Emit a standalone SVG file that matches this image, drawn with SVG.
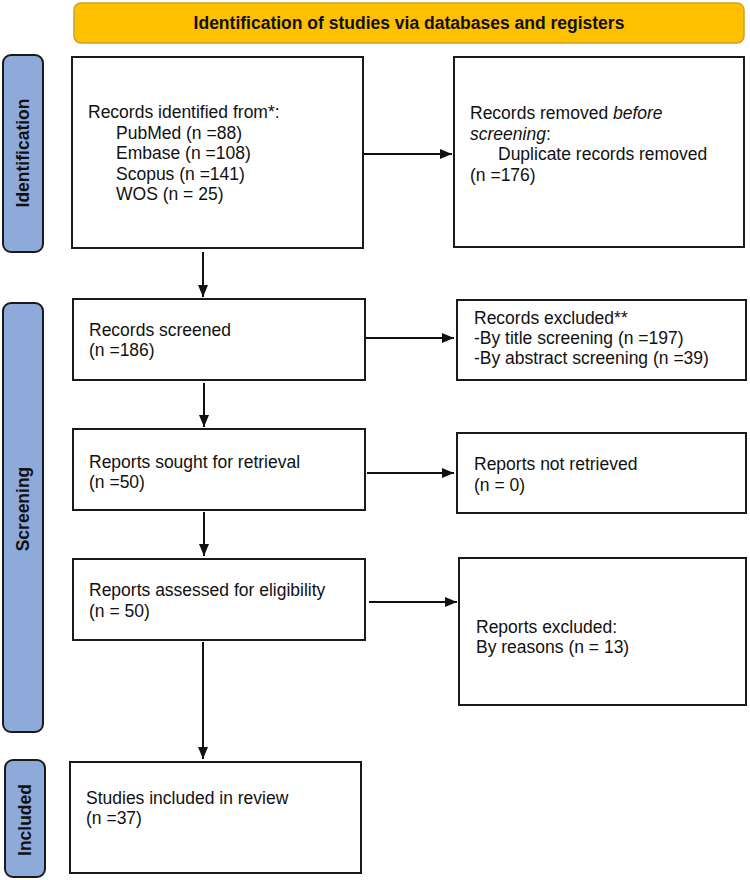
<svg xmlns="http://www.w3.org/2000/svg" width="750" height="880" viewBox="0 0 750 880">
<style>
.box{fill:#fff;stroke:#1a1a1a;stroke-width:2}
.side{fill:#8eaadb;stroke:#1a1a1a;stroke-width:2}
.t{font-family:"Liberation Sans",Arial,sans-serif;font-size:17.5px;fill:#111}
.b{font-family:"Liberation Sans",Arial,sans-serif;font-size:17.5px;font-weight:bold;fill:#111}
.c{stroke:#111;stroke-width:2;fill:none;marker-end:url(#ah)}
</style>
<defs>
<marker id="ah" viewBox="0 0 12 10" refX="12" refY="5" markerWidth="12" markerHeight="10" markerUnits="userSpaceOnUse" orient="auto">
<path d="M0,0 L12,5 L0,10 z" fill="#111"/>
</marker>
</defs>
<rect width="750" height="880" fill="#fff"/>
<g id="banner">
<rect x="74" y="3" width="670" height="40" rx="7" fill="#ffc000" stroke="#c9a227" stroke-width="1.5"/>
<text class="b" x="409" y="29" text-anchor="middle">Identification of studies via databases and registers</text>
</g>
<g id="side-identification">
<rect class="side" x="3" y="55" width="40" height="197" rx="8"/>
<text class="b" transform="translate(23,153) rotate(-90)" x="0" y="6" text-anchor="middle">Identification</text>
</g>
<g id="side-screening">
<rect class="side" x="3" y="303" width="40" height="429" rx="8"/>
<text class="b" transform="translate(23,509) rotate(-90)" x="0" y="6" text-anchor="middle">Screening</text>
</g>
<g id="side-included">
<rect class="side" x="5" y="760" width="40" height="117" rx="8"/>
<text class="b" transform="translate(25,820) rotate(-90)" x="0" y="6" text-anchor="middle">Included</text>
</g>
<g id="records-identified">
<rect class="box" x="72" y="57" width="291" height="191"/>
<text class="t" x="88" y="118">Records identified from*:</text>
<text class="t" x="116" y="138.5">PubMed (n =88)</text>
<text class="t" x="116" y="159">Embase (n =108)</text>
<text class="t" x="116" y="179.5">Scopus (n =141)</text>
<text class="t" x="116" y="200">WOS (n = 25)</text>
</g>
<g id="records-removed">
<rect class="box" x="454" y="57" width="290" height="190"/>
<text class="t" x="470" y="119">Records removed <tspan font-style="italic">before</tspan></text>
<text class="t" x="470" y="139.5"><tspan font-style="italic">screening</tspan>:</text>
<text class="t" x="498" y="160">Duplicate records removed</text>
<text class="t" x="470" y="180.5">(n =176)</text>
</g>
<g id="records-screened">
<rect class="box" x="73" y="299" width="292" height="81"/>
<text class="t" x="89" y="336">Records screened</text>
<text class="t" x="89" y="356">(n =186)</text>
</g>
<g id="records-excluded">
<rect class="box" x="457" y="300" width="289" height="80"/>
<text class="t" x="474" y="324">Records excluded**</text>
<text class="t" x="474" y="344">-By title screening (n =197)</text>
<text class="t" x="474" y="364">-By abstract screening (n =39)</text>
</g>
<g id="reports-sought">
<rect class="box" x="73" y="429" width="292" height="81"/>
<text class="t" x="89" y="468">Reports sought for retrieval</text>
<text class="t" x="89" y="488">(n =50)</text>
</g>
<g id="reports-not-retrieved">
<rect class="box" x="457" y="433" width="289" height="80"/>
<text class="t" x="474" y="470">Reports not retrieved</text>
<text class="t" x="474" y="491">(n = 0)</text>
</g>
<g id="reports-assessed">
<rect class="box" x="73" y="559" width="292" height="81"/>
<text class="t" x="89" y="596">Reports assessed for eligibility</text>
<text class="t" x="89" y="617">(n = 50)</text>
</g>
<g id="reports-excluded">
<rect class="box" x="459" y="558" width="287" height="147"/>
<text class="t" x="476" y="633">Reports excluded:</text>
<text class="t" x="476" y="653">By reasons (n = 13)</text>
</g>
<g id="studies-included">
<rect class="box" x="70" y="762" width="291" height="111"/>
<text class="t" x="86" y="804">Studies included in review</text>
<text class="t" x="86" y="824">(n =37)</text>
</g>
<g id="connectors">
<line class="c" x1="363" y1="154" x2="452" y2="154"/>
<line class="c" x1="203" y1="252" x2="203" y2="297"/>
<line class="c" x1="365" y1="338" x2="454" y2="338"/>
<line class="c" x1="204" y1="383" x2="204" y2="427"/>
<line class="c" x1="367" y1="473" x2="454" y2="473"/>
<line class="c" x1="204" y1="512" x2="204" y2="556"/>
<line class="c" x1="369" y1="602" x2="457" y2="602"/>
<line class="c" x1="203" y1="642" x2="203" y2="759"/>
</g>
</svg>
